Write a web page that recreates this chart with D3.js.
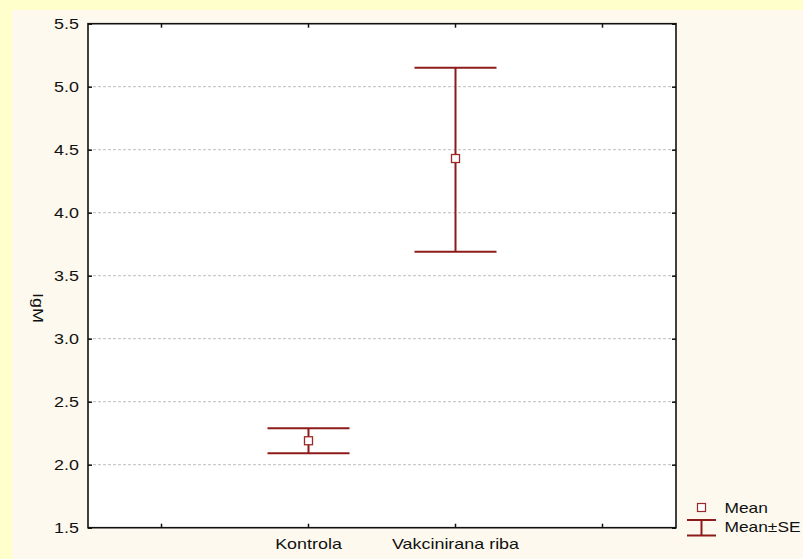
<!DOCTYPE html>
<html>
<head>
<meta charset="utf-8">
<script src="https://cdn.jsdelivr.net/npm/d3@7"></script>
<style>
  html, body { margin: 0; padding: 0; background: #FFFFCC; }
  svg { display: block; }
  text { font-family: "Liberation Sans", Arial, sans-serif; fill: #111; }
</style>
</head>
<body>
<svg id="chart" width="803" height="559"></svg>
<script>
// ---- data ----
const categories = ["Kontrola", "Vakcinirana riba"];
const means = [2.19, 4.43];
const seLower = [2.09, 3.69];
const seUpper = [2.29, 5.15];
const yTicks = [1.5, 2.0, 2.5, 3.0, 3.5, 4.0, 4.5, 5.0, 5.5];
const yLabel = "IgM";
const legendLabels = ["Mean", "Mean±SE"];

// ---- layout ----
const W = 803, H = 559;
const plot = { left: 88, right: 676, top: 23.7, bottom: 527.7 };
const barColor = "#8E1B1B";
const stretch = 1.28;

const svg = d3.select("#chart");

// backgrounds
svg.append("rect").attr("x", 0).attr("y", 0).attr("width", W).attr("height", H).attr("fill", "#FFFFCC");
svg.append("rect").attr("x", 12).attr("y", 10).attr("width", W - 12).attr("height", H - 10).attr("fill", "#FDF9EE");
svg.append("rect").attr("x", plot.left).attr("y", plot.top)
  .attr("width", plot.right - plot.left).attr("height", plot.bottom - plot.top).attr("fill", "#FFFFFF");

// scales
const slots = ["_pad_left", ...categories, "_pad_right"];
const x = d3.scaleBand().domain(slots).range([plot.left, plot.right]).padding(0);
const xc = d => x(d) + x.bandwidth() / 2;
const y = d3.scaleLinear().domain([1.5, 5.5]).range([plot.bottom, plot.top]);

// gridlines
svg.append("g").selectAll("line")
  .data(yTicks.filter(t => t > 1.5 && t < 5.5))
  .join("line")
  .attr("x1", plot.left).attr("x2", plot.right)
  .attr("y1", d => y(d)).attr("y2", d => y(d))
  .attr("stroke", "#BEBEBE").attr("stroke-width", 1)
  .attr("stroke-dasharray", "3,2");

// axes
const fmt = d3.format(".1f");
const gL = svg.append("g").attr("transform", `translate(${plot.left},0)`)
  .call(d3.axisLeft(y).tickValues(yTicks).tickFormat(fmt).tickSizeInner(-4).tickSizeOuter(0));
const gR = svg.append("g").attr("transform", `translate(${plot.right},0)`)
  .call(d3.axisRight(y).tickValues(yTicks).tickFormat("").tickSizeInner(-4).tickSizeOuter(0));
const gB = svg.append("g").attr("transform", `translate(0,${plot.bottom})`)
  .call(d3.axisBottom(x).tickValues(slots).tickFormat(d => categories.includes(d) ? d : "")
    .tickSizeInner(-4).tickSizeOuter(0));
const gT = svg.append("g").attr("transform", `translate(0,${plot.top})`)
  .call(d3.axisTop(x).tickValues(slots).tickFormat("").tickSizeInner(-4).tickSizeOuter(0));

// offset band-axis ticks to slot centers (d3 band axis already centers)
[gL, gR, gB, gT].forEach(g => {
  g.select(".domain").remove();
  g.selectAll(".tick line").attr("stroke", "#111").attr("stroke-width", 1.5);
});

gL.selectAll(".tick text")
  .attr("x", null).attr("dy", null)
  .attr("text-anchor", "end")
  .attr("dominant-baseline", "central")
  .attr("font-size", 14)
  .attr("transform", `translate(-9,0) scale(${stretch},1)`)
  .style("font-family", '"Liberation Sans", Arial, sans-serif').attr("fill", "#111");

gB.selectAll(".tick text")
  .attr("y", null).attr("dy", null)
  .attr("text-anchor", "middle")
  .attr("font-size", 14)
  .attr("transform", `translate(0,21.5) scale(${stretch},1)`)
  .style("font-family", '"Liberation Sans", Arial, sans-serif').attr("fill", "#111");

// frame
svg.append("rect").attr("x", plot.left).attr("y", plot.top)
  .attr("width", plot.right - plot.left).attr("height", plot.bottom - plot.top)
  .attr("fill", "none").attr("stroke", "#111").attr("stroke-width", 1.6);

// y label
svg.append("text")
  .attr("transform", `translate(38,308) rotate(90) scale(${stretch},1)`)
  .attr("text-anchor", "middle")
  .attr("dominant-baseline", "central")
  .attr("font-size", 14)
  .text(yLabel);

// error bars
const capHalf = 41;
const eb = svg.append("g").selectAll("g").data(categories).join("g");
eb.append("line")
  .attr("x1", d => xc(d)).attr("x2", d => xc(d))
  .attr("y1", (d, i) => y(seUpper[i])).attr("y2", (d, i) => y(seLower[i]))
  .attr("stroke", barColor).attr("stroke-width", 2);
eb.append("line")
  .attr("x1", d => xc(d) - capHalf).attr("x2", d => xc(d) + capHalf)
  .attr("y1", (d, i) => y(seUpper[i])).attr("y2", (d, i) => y(seUpper[i]))
  .attr("stroke", barColor).attr("stroke-width", 2);
eb.append("line")
  .attr("x1", d => xc(d) - capHalf).attr("x2", d => xc(d) + capHalf)
  .attr("y1", (d, i) => y(seLower[i])).attr("y2", (d, i) => y(seLower[i]))
  .attr("stroke", barColor).attr("stroke-width", 2);
eb.append("rect")
  .attr("x", d => xc(d) - 4).attr("y", (d, i) => y(means[i]) - 4)
  .attr("width", 8).attr("height", 8)
  .attr("fill", "#FFFFFF").attr("stroke", "#9A2A2A").attr("stroke-width", 1.3);

// legend
const lg = svg.append("g");
lg.append("rect").attr("x", 697.5).attr("y", 503.5).attr("width", 8).attr("height", 8)
  .attr("fill", "#FFFFFF").attr("stroke", "#9A2A2A").attr("stroke-width", 1.2);
lg.append("line").attr("x1", 687).attr("x2", 716).attr("y1", 520).attr("y2", 520)
  .attr("stroke", barColor).attr("stroke-width", 2);
lg.append("line").attr("x1", 701.5).attr("x2", 701.5).attr("y1", 520).attr("y2", 535.5)
  .attr("stroke", barColor).attr("stroke-width", 2);
lg.append("line").attr("x1", 687).attr("x2", 716).attr("y1", 535.5).attr("y2", 535.5)
  .attr("stroke", barColor).attr("stroke-width", 2);
lg.selectAll("text").data(legendLabels).join("text")
  .attr("transform", (d, i) => `translate(724.5,${i === 0 ? 508 : 527}) scale(1.24,1)`)
  .attr("dominant-baseline", "central")
  .attr("font-size", 14)
  .text(d => d);
</script>
</body>
</html>
